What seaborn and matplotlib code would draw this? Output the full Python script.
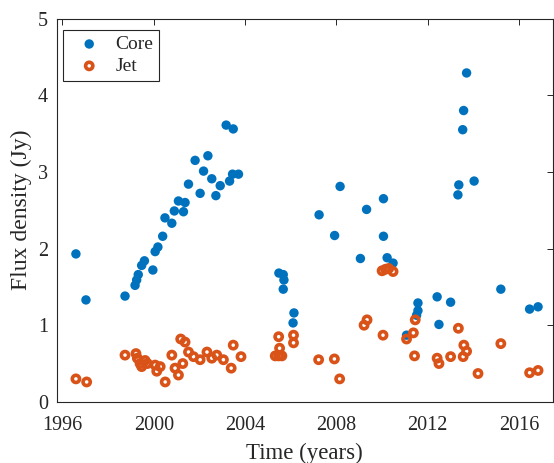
import matplotlib
matplotlib.use("Agg")
import matplotlib.pyplot as plt
import seaborn as sns
import pandas as pd

# ---- data ----
core_year = [1996.59, 1997.03, 1998.74, 1999.18, 1999.25, 1999.32, 1999.47, 1999.59,
             1999.96, 2000.06, 2000.18, 2000.39, 2000.49, 2000.79, 2000.90, 2001.08,
             2001.30, 2001.37, 2001.52, 2001.81, 2002.03, 2002.18, 2002.37, 2002.54,
             2002.72, 2002.91, 2003.32, 2003.45, 2003.71, 2003.17, 2003.48,
             2005.48, 2005.67, 2005.70, 2005.67, 2006.14, 2006.10,
             2007.24, 2007.92, 2008.16, 2009.05, 2009.32, 2010.06, 2010.06, 2010.22, 2010.48,
             2011.07, 2011.51, 2011.57, 2011.57, 2012.41, 2012.49, 2013.00,
             2013.32, 2013.36, 2013.53, 2013.57, 2013.70, 2014.03,
             2015.20, 2016.46, 2016.83]
core_flux = [1.93, 1.33, 1.38, 1.52, 1.59, 1.66, 1.78, 1.84,
             1.72, 1.96, 2.02, 2.16, 2.40, 2.33, 2.49, 2.62,
             2.48, 2.60, 2.84, 3.15, 2.72, 3.01, 3.21, 2.91,
             2.69, 2.82, 2.88, 2.97, 2.97, 3.61, 3.56,
             1.68, 1.66, 1.59, 1.47, 1.16, 1.03,
             2.44, 2.17, 2.81, 1.87, 2.51, 2.65, 2.16, 1.88, 1.81,
             0.87, 1.13, 1.19, 1.29, 1.37, 1.01, 1.30,
             2.70, 2.83, 3.55, 3.80, 4.29, 2.88,
             1.47, 1.21, 1.24]

jet_year = [1996.59, 1997.06, 1998.74, 1999.22, 1999.28, 1999.40, 1999.47, 1999.62,
            1999.72, 2000.06, 2000.13, 2000.28, 2000.50, 2000.79, 2000.93, 2001.08,
            2001.27, 2001.18, 2001.37, 2001.52, 2001.74, 2002.03, 2002.33, 2002.54,
            2002.76, 2003.05, 2003.39, 2003.48, 2003.82,
            2005.47, 2005.51, 2005.32, 2005.47, 2005.61, 2006.12, 2006.12,
            2007.22, 2007.91, 2008.14, 2009.21, 2009.34, 2010.04,
            2010.00, 2010.15, 2010.29, 2010.48,
            2011.07, 2011.37, 2011.45, 2011.42,
            2012.41, 2012.49, 2013.00, 2013.34, 2013.55, 2013.58, 2013.70,
            2014.20, 2015.20, 2016.46, 2016.83]
jet_flux = [0.30, 0.26, 0.61, 0.63, 0.57, 0.50, 0.46, 0.54,
            0.50, 0.48, 0.40, 0.46, 0.26, 0.61, 0.44, 0.35,
            0.50, 0.82, 0.78, 0.65, 0.59, 0.55, 0.65, 0.57,
            0.61, 0.55, 0.44, 0.74, 0.59,
            0.85, 0.70, 0.60, 0.60, 0.60, 0.87, 0.77,
            0.55, 0.56, 0.30, 1.00, 1.07, 0.87,
            1.71, 1.73, 1.74, 1.70,
            0.82, 0.90, 1.07, 0.60,
            0.57, 0.50, 0.59, 0.96, 0.59, 0.74, 0.66,
            0.37, 0.76, 0.38, 0.41]

x_ticks = [1996, 2000, 2004, 2008, 2012, 2016]
y_ticks = [0, 1, 2, 3, 4, 5]

core_df = pd.DataFrame({"Time": core_year, "Flux": core_flux})
jet_df = pd.DataFrame({"Time": jet_year, "Flux": jet_flux})

# ---- style ----
sns.set_style("white")
plt.rcParams["font.family"] = ["Liberation Serif", "DejaVu Serif"]

CORE = "#0072BD"
JET = "#D95319"
AXC = "#262626"

fig = plt.figure(figsize=(5.54, 4.63), dpi=100)
ax = fig.add_axes([0.102, 0.132, 0.896, 0.828])

sns.scatterplot(data=core_df, x="Time", y="Flux", ax=ax, color=CORE,
                s=46, edgecolor="none", linewidth=0, label="Core", zorder=3)
sns.scatterplot(data=jet_df, x="Time", y="Flux", ax=ax, facecolors="none",
                edgecolor=JET, color=JET, s=27, linewidth=2.6, label="Jet", zorder=4)

ax.set_xlim(1995.74, 2017.48)
ax.set_ylim(0, 5)
ax.set_xticks(x_ticks)
ax.set_xticklabels([str(t) for t in x_ticks])
ax.set_yticks(y_ticks)
ax.set_yticklabels([str(t) for t in y_ticks])

ax.set_xlabel("Time (years)", fontsize=16.5, color=AXC, labelpad=6)
ax.set_ylabel("Flux density (Jy)", fontsize=17, color=AXC, labelpad=4)

ax.tick_params(axis="both", which="both", direction="in", length=4, width=0.7,
               colors=AXC, labelsize=14.5, top=True, right=True,
               labeltop=False, labelright=False)
ax.tick_params(axis="x", pad=10)
ax.tick_params(axis="y", pad=6)
for sp in ax.spines.values():
    sp.set_visible(True)
    sp.set_color(AXC)
    sp.set_linewidth(0.8)

leg = ax.legend(loc="upper left", bbox_to_anchor=(0.013, 0.971), fontsize=14,
                frameon=True, fancybox=False, framealpha=1, edgecolor=AXC,
                borderpad=0.3, handletextpad=0.3, labelspacing=0.22,
                handlelength=2.1, borderaxespad=0)
leg.get_frame().set_linewidth(0.8)

fig.savefig("out.png", dpi=100)
